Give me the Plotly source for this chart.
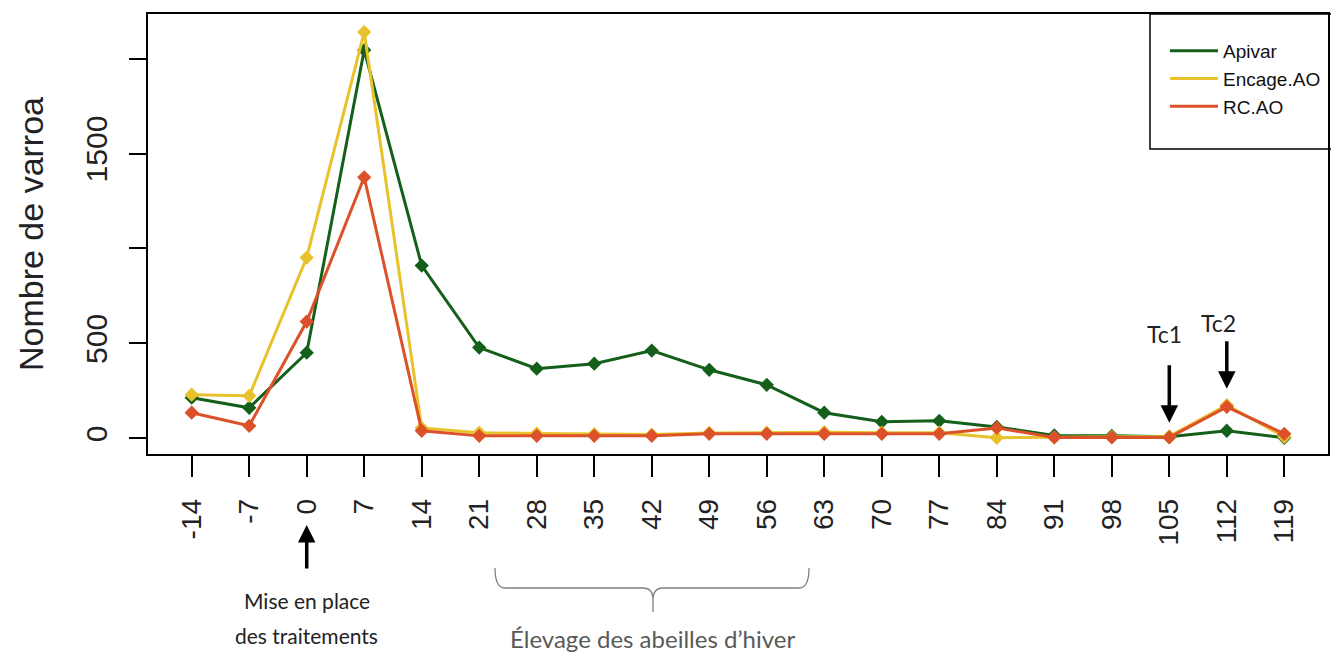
import plotly.graph_objects as go

# ---------------- data ----------------
days = [-14, -7, 0, 7, 14, 21, 28, 35, 42, 49, 56, 63, 70, 77, 84, 91, 98, 105, 112, 119]
tick_labels = ["-14", "-7", "0", "7", "14", "21", "28", "35", "42", "49", "56", "63",
               "70", "77", "84", "91", "98", "105", "112", "119"]
apivar = [214, 161, 451, 2045, 910, 478, 367, 393, 462, 361, 282, 135, 87, 92, 60, 15, 13, 8, 40, 3]
encage_ao = [230, 224, 952, 2140, 55, 30, 25, 22, 20, 28, 30, 32, 30, 30, 3, 5, 8, 10, 175, 8]
rc_ao = [135, 66, 615, 1375, 40, 13, 13, 13, 13, 24, 24, 24, 24, 24, 55, 5, 5, 5, 166, 24]
series_names = ["Apivar", "Encage.AO", "RC.AO"]
y_tickvals = [0, 500, 1000, 1500, 2000]
y_ticktext = ["0", "500", "", "1500", ""]

colors = ["#145f1a", "#e8c22a", "#dc5129"]

# plot-area geometry (pixels)
L, R, T, B = 148, 1328, 14, 454
W, H = R - L, B - T


def px(x):
    return (x - L) / W


def py(y):
    return (B - y) / H


fig = go.Figure()
for name, vals, col in zip(series_names, [apivar, encage_ao, rc_ao], colors):
    fig.add_trace(go.Scatter(x=days, y=vals, mode="lines", name=name,
                             line=dict(color=col, width=3)))
    fig.add_trace(go.Scatter(x=days, y=vals, mode="markers", name=name, showlegend=False,
                             marker=dict(symbol="diamond", size=11, color=col)))

axis_font = dict(family="Liberation Sans, Arial, sans-serif", color="#222222")

fig.update_layout(
    width=1331, height=654,
    margin=dict(l=L, r=1331 - R, t=T, b=654 - B, pad=0),
    paper_bgcolor="white", plot_bgcolor="white",
    showlegend=True,
    legend=dict(x=px(1165), y=py(32), xanchor="left", yanchor="top",
                bgcolor="rgba(0,0,0,0)", borderwidth=0,
                font=dict(family="Liberation Sans, Arial, sans-serif", size=19, color="#111111"),
                itemwidth=48, tracegroupgap=0),
    xaxis=dict(range=[-19.32, 124.32], tickvals=days, ticktext=tick_labels,
               tickangle=-90, ticks="outside", ticklen=21, tickwidth=1.5, tickcolor="black",
               ticklabelstandoff=11,
               tickfont=dict(size=28, **axis_font),
               showline=True, linecolor="black", linewidth=1.5, mirror=True,
               showgrid=False, zeroline=False, automargin=False),
    yaxis=dict(range=[-82.5, 2235], tickvals=y_tickvals, ticktext=y_ticktext,
               tickangle=-90, ticks="outside", ticklen=17, tickwidth=1.5, tickcolor="black",
               ticklabelstandoff=10,
               tickfont=dict(size=30, **axis_font),
               title=dict(text="Nombre de varroa", standoff=26,
                          font=dict(size=34, **axis_font)),
               showline=True, linecolor="black", linewidth=1.5, mirror=True,
               showgrid=False, zeroline=False, automargin=False),
)

# legend frame
fig.add_shape(type="rect", xref="paper", yref="paper",
              x0=px(1150), x1=px(1345), y0=py(149), y1=py(14),
              line=dict(color="black", width=1.5), fillcolor="rgba(0,0,0,0)", layer="above")

ann_font = "Lato, Open Sans, sans-serif"
# Tc1 / Tc2 arrows
fig.add_annotation(x=105, y=82, xref="x", yref="y", ax=0, ay=-59, text="",
                   showarrow=True, arrowhead=2, arrowsize=1, arrowwidth=3.5, arrowcolor="black")
fig.add_annotation(x=112, y=261, xref="x", yref="y", ax=0, ay=-49, text="",
                   showarrow=True, arrowhead=2, arrowsize=1, arrowwidth=3.5, arrowcolor="black")
fig.add_annotation(x=104.4, y=551, xref="x", yref="y", text="Tc1", showarrow=False,
                   xanchor="center", yanchor="middle",
                   font=dict(family=ann_font, size=23, color="#222222"))
fig.add_annotation(x=111.0, y=609, xref="x", yref="y", text="Tc2", showarrow=False,
                   xanchor="center", yanchor="middle",
                   font=dict(family=ann_font, size=23, color="#222222"))

# treatment arrow under x = 0
fig.add_annotation(x=0, y=py(525), xref="x", yref="paper", ax=0, ay=45, text="",
                   showarrow=True, arrowhead=2, arrowsize=1, arrowwidth=3.5, arrowcolor="black")
fig.add_annotation(x=0, y=py(600), xref="x", yref="paper", text="Mise en place",
                   xanchor="center", yanchor="middle", showarrow=False,
                   font=dict(family=ann_font, size=21, color="#222222"))
fig.add_annotation(x=0, y=py(635), xref="x", yref="paper", text="des traitements",
                   xanchor="center", yanchor="middle", showarrow=False,
                   font=dict(family=ann_font, size=21, color="#222222"))

# brace
def P(x, y):
    return f"{px(x):.5f},{py(y):.5f}"

path = (f"M {P(495,568)} Q {P(495,588)} {P(505,588)} L {P(643,588)} "
        f"Q {P(653,588)} {P(653,600)} L {P(653,612)} "
        f"M {P(653,600)} Q {P(653,588)} {P(663,588)} L {P(799,588)} "
        f"Q {P(809,588)} {P(809,568)}")
fig.add_shape(type="path", xref="paper", yref="paper", path=path,
              line=dict(color="#808080", width=1.3))
fig.add_annotation(x=px(652), y=py(638), xref="paper", yref="paper",
                   text="Élevage des abeilles d’hiver", showarrow=False,
                   xanchor="center", yanchor="middle",
                   font=dict(family=ann_font, size=24, color="#595959"))

fig.write_html("out.html", config={"displayModeBar": False},
               post_script="document.body.style.margin='0';document.body.style.overflow='hidden';")
